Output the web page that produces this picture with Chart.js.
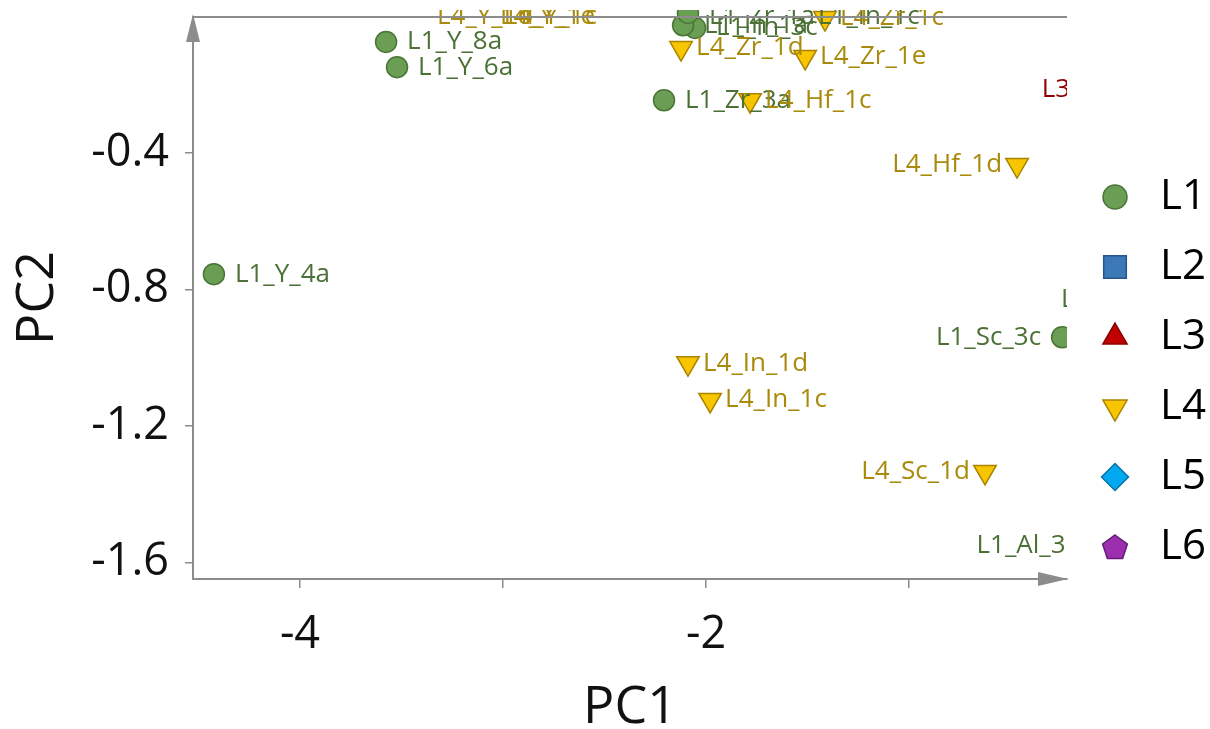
<!DOCTYPE html>
<html><head><meta charset="utf-8">
<script src="https://cdn.jsdelivr.net/npm/chart.js@4.4.1/dist/chart.umd.min.js"></script>
<style>html,body{margin:0;padding:0;background:#fff;} canvas{display:block;}</style>
</head><body>
<canvas id="c" width="1210" height="729"></canvas>
<script>
// ---------------- data ----------------
const SERIES = ['L1', 'L2', 'L3', 'L4', 'L5', 'L6'];

const L1_names = ['L1_Y_4a', 'L1_Y_8a', 'L1_Y_6a', 'L1_Zr_3a', 'L1_In_3c', 'L1_In_1a', 'L1_Zr_1a', 'L1_In_1c', 'L1_Sc_3c', 'L1_Sc_1c', 'L1_Al_3c'];
const L1_pc1 = [-4.424, -3.576, -3.522, -2.207, -2.054, -2.113, -2.089, -1.552, -0.246, 0.370, -0.064];
const L1_pc2 = [-0.755, -0.074, -0.148, -0.245, -0.033, -0.025, 0.011, 0.049, -0.940, -0.831, -1.550];

const L2_names = [];
const L2_pc1 = [];
const L2_pc2 = [];

const L3_names = ['L3_Sc_1c'];
const L3_pc1 = [0.246];
const L3_pc2 = [-0.215];

const L4_names = ['L4_Hf_1d', 'L4_In_1d', 'L4_In_1c', 'L4_Sc_1d', 'L4_Zr_1d', 'L4_Zr_1e', 'L4_Hf_1c', 'L4_Zr_1c', 'L4_Y_1e', 'L4_Y_1d', 'L4_Y_1c'];
const L4_pc1 = [-0.468, -2.089, -1.980, -0.626, -2.123, -1.512, -1.783, -1.414, -3.089, -3.399, -3.070];
const L4_pc2 = [-0.435, -1.016, -1.124, -1.335, -0.092, -0.118, -0.245, -0.004, 0.063, 0.063, 0.063];

const L5_names = [];
const L5_pc1 = [];
const L5_pc2 = [];

const L6_names = [];
const L6_pc1 = [];
const L6_pc2 = [];

const X_MIN = -4.527, X_MAX = -0.222;
const Y_MIN = -1.649, Y_MAX = -0.001;
const X_TICK_STEP = 1, Y_TICK_STEP = 0.4;
const X_TICK_LABELS = ['-4', '-2'];
const Y_TICK_LABELS = ['-1.6', '-1.2', '-0.8', '-0.4'];
const X_TITLE = 'PC1', Y_TITLE = 'PC2';

// ---------------- styles ----------------
const FONT = "'Open Sans', 'Noto Sans', sans-serif";
const AXIS_GREY = '#8c8c8c';
const LABEL_LEFT_FROM = -1.1; // points right of this PC1 value get their label on the left

function makePentagon(fill, stroke) {
  const c = document.createElement('canvas');
  c.width = 30; c.height = 30;
  const g = c.getContext('2d');
  const R = 13, cx = 15, cy = 16;
  g.beginPath();
  for (let k = 0; k < 5; k++) {
    const a = -Math.PI / 2 + k * 2 * Math.PI / 5;
    const px = cx + R * Math.cos(a), py = cy + R * Math.sin(a);
    if (k) g.lineTo(px, py); else g.moveTo(px, py);
  }
  g.closePath();
  g.fillStyle = fill; g.fill();
  g.lineWidth = 1.5; g.strokeStyle = stroke; g.stroke();
  return c;
}

const STYLE = {
  L1: { fill: '#6a9e55', border: '#4a7535', text: '#4b7136', shape: 'circle', rot: 0, r: 10.5, lr: 12, off: 21 },
  L2: { fill: '#3c79b8', border: '#27568a', text: '#27568a', shape: 'rect', rot: 0, r: 14, lr: 16, off: 18 },
  L3: { fill: '#c00000', border: '#8a0000', text: '#8f0000', shape: 'triangle', rot: 0, r: 13, lr: 14, off: 15 },
  L4: { fill: '#f7c600', border: '#a88400', text: '#a98a0a', shape: 'triangle', rot: 180, r: 13, lr: 14, off: 15 },
  L5: { fill: '#00a9ef', border: '#0a72a6', text: '#0a72a6', shape: 'rectRot', rot: 0, r: 12, lr: 13.5, off: 18 },
  L6: { fill: '#9b2fae', border: '#681d78', text: '#681d78', shape: makePentagon('#9b2fae', '#681d78'), rot: 0, r: 12, lr: 13, off: 18 }
};

const SOURCE = {
  L1: [L1_names, L1_pc1, L1_pc2], L2: [L2_names, L2_pc1, L2_pc2], L3: [L3_names, L3_pc1, L3_pc2],
  L4: [L4_names, L4_pc1, L4_pc2], L5: [L5_names, L5_pc1, L5_pc2], L6: [L6_names, L6_pc1, L6_pc2]
};

const datasets = SERIES.map(s => {
  const [names, xs, ys] = SOURCE[s];
  const st = STYLE[s];
  return {
    label: s,
    names: names,
    st: st,
    data: names.map((n, i) => ({ x: xs[i], y: ys[i] })),
    pointStyle: st.shape,
    pointRotation: st.rot,
    pointRadius: st.r,
    pointHoverRadius: st.r,
    backgroundColor: st.fill,
    borderColor: st.border,
    pointBackgroundColor: st.fill,
    pointBorderColor: st.border,
    pointBorderWidth: 1.5,
    borderWidth: 1.5,
    clip: { left: 0, top: 7, right: 0, bottom: 0 }
  };
});

// ---------------- plugins ----------------
const framePlugin = {
  id: 'frame',
  afterDraw(chart) {
    const ctx = chart.ctx, a = chart.chartArea;
    ctx.save();
    ctx.strokeStyle = AXIS_GREY; ctx.lineWidth = 2;
    ctx.beginPath(); ctx.moveTo(a.left, a.top); ctx.lineTo(a.right, a.top); ctx.stroke();
    ctx.fillStyle = AXIS_GREY;
    ctx.beginPath();
    ctx.moveTo(a.left, a.top - 3); ctx.lineTo(a.left + 7, a.top + 25); ctx.lineTo(a.left - 7, a.top + 25); ctx.closePath(); ctx.fill();
    ctx.beginPath();
    ctx.moveTo(a.right + 1, a.bottom); ctx.lineTo(a.right - 29, a.bottom - 7); ctx.lineTo(a.right - 29, a.bottom + 7); ctx.closePath(); ctx.fill();
    ctx.restore();
  }
};

const labelPlugin = {
  id: 'pointLabels',
  afterDatasetsDraw(chart) {
    const ctx = chart.ctx, a = chart.chartArea;
    ctx.save();
    ctx.beginPath(); ctx.rect(0, a.top - 7, a.right, a.bottom - a.top + 7); ctx.clip();
    ctx.font = '26px ' + FONT;
    ctx.textBaseline = 'middle';
    chart.data.datasets.forEach((ds, di) => {
      const meta = chart.getDatasetMeta(di);
      meta.data.forEach((pt, i) => {
        const left = ds.data[i].x > LABEL_LEFT_FROM;
        const off = ds.st.off;
        ctx.fillStyle = ds.st.text;
        ctx.textAlign = left ? 'right' : 'left';
        const y = Math.min(Math.max(pt.y, a.top), a.bottom);
        ctx.fillText(ds.names[i], pt.x + (left ? -off : off), y);
      });
    });
    ctx.restore();
  }
};

const legendPlugin = {
  id: 'sideLegend',
  afterDraw(chart) {
    const ctx = chart.ctx, a = chart.chartArea;
    const mx = a.right + 48, tx = a.right + 93, y0 = 197, step = 70;
    ctx.save();
    chart.data.datasets.forEach((ds, i) => {
      const y = y0 + i * step;
      ctx.fillStyle = ds.st.fill; ctx.strokeStyle = ds.st.border; ctx.lineWidth = 1.5;
      Chart.helpers.drawPoint(ctx, { pointStyle: ds.st.shape, rotation: ds.st.rot, radius: ds.st.lr, borderWidth: 1.5 }, mx, y);
      ctx.fillStyle = '#000';
      ctx.font = '42px ' + FONT;
      ctx.textAlign = 'left'; ctx.textBaseline = 'middle';
      ctx.fillText(ds.label, tx, y);
    });
    ctx.restore();
  }
};

Chart.defaults.font.family = FONT;

new Chart(document.getElementById('c'), {
  type: 'scatter',
  data: { datasets },
  options: {
    responsive: false,
    animation: false,
    events: [],
    layout: { padding: { left: 0, right: 143, top: 17, bottom: 0 } },
    plugins: { legend: { display: false }, tooltip: { enabled: false } },
    scales: {
      x: {
        type: 'linear', position: 'bottom', min: X_MIN, max: X_MAX,
        border: { display: true, color: AXIS_GREY, width: 2 },
        grid: { display: true, drawOnChartArea: false, drawTicks: true, tickLength: 9, color: AXIS_GREY, lineWidth: 1.5 },
        ticks: {
          stepSize: X_TICK_STEP, includeBounds: false, autoSkip: false, maxRotation: 0, padding: 20,
          color: '#111', font: { size: 45 },
          callback: v => { const s = String(Math.round(v * 1000) / 1000); return X_TICK_LABELS.includes(s) ? s : ''; }
        },
        title: { display: true, text: X_TITLE, color: '#111', font: { size: 52, lineHeight: 0.8 }, padding: { top: 0, bottom: 0 } },
        afterFit: s => { s.height = 150; s.paddingLeft = 0; s.paddingRight = 0; }
      },
      y: {
        type: 'linear', position: 'left', min: Y_MIN, max: Y_MAX,
        border: { display: true, color: AXIS_GREY, width: 2 },
        grid: { display: true, drawOnChartArea: false, drawTicks: true, tickLength: 8, color: AXIS_GREY, lineWidth: 1.5 },
        ticks: {
          stepSize: Y_TICK_STEP, includeBounds: false, autoSkip: false, padding: 16,
          color: '#111', font: { size: 45 },
          callback: v => { const s = (Math.round(v * 10) / 10).toFixed(1); return Y_TICK_LABELS.includes(s) ? s : ''; }
        },
        title: { display: true, text: Y_TITLE, color: '#111', font: { size: 52, lineHeight: 0.8 }, padding: { top: 17, bottom: 0 } },
        afterFit: s => { s.width = 193; s.paddingTop = 0; s.paddingBottom = 0; }
      }
    }
  },
  plugins: [labelPlugin, framePlugin, legendPlugin]
});
</script>
</body></html>
